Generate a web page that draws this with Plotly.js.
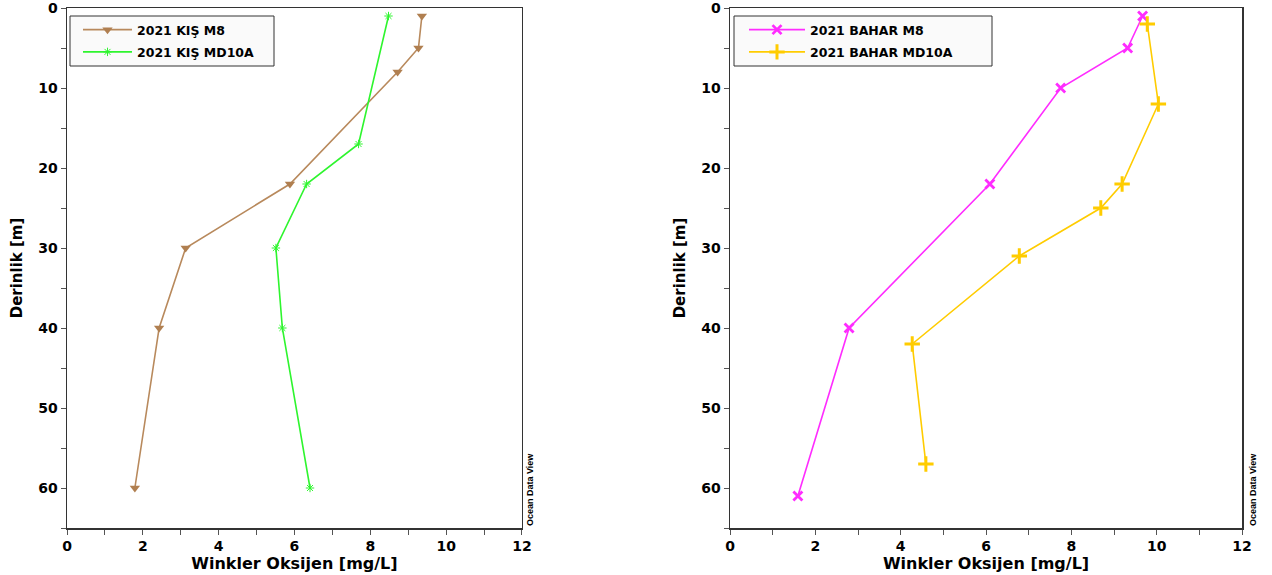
<!DOCTYPE html>
<html>
<head>
<meta charset="utf-8">
<script src="https://cdn.plot.ly/plotly-3.0.1.min.js"></script>
<style>html,body{margin:0;padding:0;background:#fff;}#chart{width:1272px;height:575px;}</style>
</head>
<body>
<div id="chart"></div>
<script>
// Winter (KIŞ) profiles
const kisM8Oxygen = [9.36, 9.27, 8.72, 5.88, 3.13, 2.43, 1.79];
const kisM8Depth = [1, 5, 8, 22, 30, 40, 60];
const kisMD10AOxygen = [8.48, 7.69, 6.32, 5.51, 5.68, 6.41];
const kisMD10ADepth = [1, 17, 22, 30, 40, 60];
// Spring (BAHAR) profiles
const baharM8Oxygen = [9.67, 9.32, 7.75, 6.09, 2.79, 1.59];
const baharM8Depth = [1, 5, 10, 22, 40, 61];
const baharMD10AOxygen = [9.78, 10.04, 9.19, 8.69, 6.78, 4.27, 4.59];
const baharMD10ADepth = [2, 12, 22, 25, 31, 42, 57];

const seriesNames = ['2021 KIŞ M8', '2021 KIŞ MD10A', '2021 BAHAR M8', '2021 BAHAR MD10A'];
const xTitle = 'Winkler Oksijen [mg/L]';
const yTitle = 'Derinlik [m]';
const watermark = 'Ocean Data View';

const FONT = 'DejaVu Sans';

const traces = [
  {x: kisM8Oxygen, y: kisM8Depth, name: seriesNames[0], xaxis: 'x', yaxis: 'y', legend: 'legend', legendgroup: 'a',
   mode: 'lines+markers', line: {color: '#b8895c', width: 1.6},
   marker: {symbol: 'triangle-down', size: 9, color: '#b07f50'}},
  {x: kisMD10AOxygen, y: kisMD10ADepth, name: seriesNames[1], xaxis: 'x', yaxis: 'y', legend: 'legend', legendgroup: 'b',
   mode: 'lines+markers', line: {color: '#2ef52e', width: 1.6},
   marker: {symbol: 'asterisk-open', size: 7, line: {color: '#2ef52e', width: 1}}},
  {x: baharM8Oxygen, y: baharM8Depth, name: seriesNames[2], xaxis: 'x2', yaxis: 'y2', legend: 'legend2', legendgroup: 'c',
   mode: 'lines+markers', line: {color: '#ff2cff', width: 1.6},
   marker: {symbol: 'x-thin-open', size: 9, line: {color: '#ff00ff', width: 2.8}}},
  {x: baharMD10AOxygen, y: baharMD10ADepth, name: seriesNames[3], xaxis: 'x2', yaxis: 'y2', legend: 'legend2', legendgroup: 'd',
   mode: 'lines+markers', line: {color: '#ffcc00', width: 1.6},
   marker: {symbol: 'cross-thin-open', size: 11, line: {color: '#ffcc00', width: 3}}}
];

function xAxis(domain, anchor) {
  return {
    domain: domain, anchor: anchor, range: [0, 12], dtick: 2, tick0: 0,
    ticks: 'outside', ticklen: 5, tickcolor: '#555', tickwidth: 1,
    minor: {dtick: 1, ticks: 'outside', ticklen: 5, tickcolor: '#555'},
    showline: true, linecolor: '#333', linewidth: 1.5, mirror: true,
    showgrid: false, zeroline: false, ticklabeloverflow: 'allow',
    tickfont: {family: FONT, size: 14, color: '#000', weight: 'bold'},
    title: {text: xTitle, font: {family: FONT, size: 16, color: '#000', weight: 'bold'}, standoff: 1}
  };
}
function yAxis(anchor) {
  return {
    anchor: anchor, range: [65, 0], dtick: 10, tick0: 0,
    ticks: 'outside', ticklen: 5, tickcolor: '#555', tickwidth: 1,
    minor: {dtick: 5, ticks: 'outside', ticklen: 5, tickcolor: '#555'},
    showline: true, linecolor: '#333', linewidth: 1.5, mirror: true,
    showgrid: false, zeroline: false, ticklabeloverflow: 'allow',
    tickfont: {family: FONT, size: 14, color: '#000', weight: 'bold'},
    title: {text: yTitle, font: {family: FONT, size: 15, color: '#000', weight: 'bold'}, standoff: 12}
  };
}

const legendStyle = {
  font: {family: FONT, size: 12.5, color: '#000', weight: 'bold'},
  bgcolor: 'rgba(0,0,0,0)', borderwidth: 0, tracegroupgap: 3,
  xanchor: 'left', yanchor: 'top'
};

function px2x(px) { return (px - 67) / 1175; }
function px2y(py) { return (528 - py) / 520; }

const layout = {
  width: 1272, height: 575,
  margin: {l: 67, r: 30, t: 8, b: 47},
  paper_bgcolor: '#fff', plot_bgcolor: '#fff',
  showlegend: true,
  xaxis: xAxis([0, 0.3872], 'y'),
  yaxis: yAxis('x'),
  xaxis2: xAxis([0.5643, 1], 'y2'),
  yaxis2: yAxis('x2'),
  legend: Object.assign({x: px2x(78), y: px2y(15), itemwidth: 49}, legendStyle),
  legend2: Object.assign({x: px2x(744), y: px2y(15), itemwidth: 56}, legendStyle),
  shapes: [
    {type: 'rect', xref: 'paper', yref: 'paper', x0: px2x(70), x1: px2x(274), y0: px2y(66), y1: px2y(16),
     line: {color: '#333', width: 1}, fillcolor: '#fafafa', layer: 'above'},
    {type: 'rect', xref: 'paper', yref: 'paper', x0: px2x(734), x1: px2x(992), y0: px2y(66), y1: px2y(16),
     line: {color: '#333', width: 1}, fillcolor: '#fafafa', layer: 'above'}
  ],
  annotations: [
    {text: watermark, xref: 'paper', yref: 'paper', x: px2x(530), y: px2y(490), textangle: -90,
     xanchor: 'center', yanchor: 'middle',
     showarrow: false, font: {family: 'Liberation Sans', size: 9, color: '#000', weight: 'bold'}},
    {text: watermark, xref: 'paper', yref: 'paper', x: px2x(1253), y: px2y(490), textangle: -90,
     xanchor: 'center', yanchor: 'middle',
     showarrow: false, font: {family: 'Liberation Sans', size: 9, color: '#000', weight: 'bold'}}
  ]
};

Plotly.newPlot('chart', traces, layout, {displayModeBar: false, staticPlot: true});
</script>
</body>
</html>
